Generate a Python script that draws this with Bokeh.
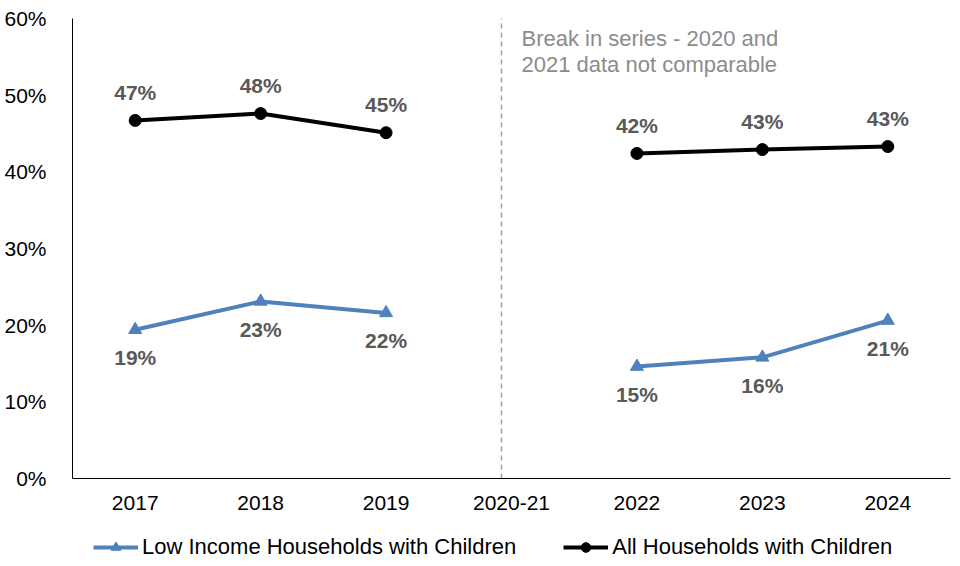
import math
from bokeh.plotting import figure
from bokeh.layouts import column
from bokeh.models import (FactorRange, Range1d, FixedTicker, NumeralTickFormatter,
                          Legend, LegendItem, ColumnDataSource)
from bokeh.core.properties import value
from bokeh.embed import file_html
from bokeh.resources import INLINE

nan = float("nan")
years = ["2017", "2018", "2019", "2020-21", "2022", "2023", "2024"]
low_income = [0.194, 0.231, 0.216, nan, 0.146, 0.158, 0.206]
all_households = [0.467, 0.476, 0.451, nan, 0.424, 0.429, 0.433]
low_labels = ["19%", "23%", "22%", "", "15%", "16%", "21%"]
all_labels = ["47%", "48%", "45%", "", "42%", "43%", "43%"]
y_ticks = [0, 0.1, 0.2, 0.3, 0.4, 0.5, 0.6]
series_names = ["Low Income Households with Children", "All Households with Children"]
break_year = "2020-21"
break_note = ["Break in series - 2020 and", "2021 data not comparable"]

FONT = "Liberation Sans"
BLUE = "#4F81BD"
FS = "21px"

chart = figure(width=960, height=530, output_backend="svg", toolbar_location=None,
               x_range=FactorRange(*years, range_padding=0), y_range=Range1d(0, 0.6),
               min_border_left=72, min_border_right=10, min_border_top=18, min_border_bottom=52)
chart.outline_line_color = None
chart.xgrid.grid_line_color = None
chart.ygrid.grid_line_color = None

for ax in (chart.xaxis[0], chart.yaxis[0]):
    ax.major_tick_line_color = None
    ax.minor_tick_line_color = None
    ax.axis_line_color = "black"
    ax.axis_line_width = 1
    ax.major_label_text_font = FONT
    ax.major_label_text_font_size = FS
    ax.major_label_text_color = "black"
chart.yaxis[0].ticker = FixedTicker(ticks=y_ticks)
chart.yaxis[0].formatter = NumeralTickFormatter(format="0%")
chart.yaxis[0].major_label_standoff = 20
chart.xaxis[0].major_label_standoff = 11

# break line (drawn slightly left of the category centre, as in the original)
chart.segment(x0=[(break_year, -0.08)], y0=[0], x1=[(break_year, -0.08)], y1=[0.6],
              line_color="#A0A0A0", line_width=1.5, line_dash="5 4")
chart.text(x=[(break_year, -0.08)] * 2, y=[0.6, 0.6], text=break_note,
           x_offset=20, y_offset=[20, 46], text_baseline="alphabetic", text_align="left",
           text_font=value(FONT), text_font_size="22px", text_color="#8C8C8C")

src_low = ColumnDataSource(dict(x=years, y=low_income))
src_all = ColumnDataSource(dict(x=years, y=all_households))

low_line = dict(line_color=BLUE, line_width=4)
low_mark = dict(marker="triangle", size=13, fill_color=BLUE, line_color=BLUE)
all_line = dict(line_color="black", line_width=4)
all_mark = dict(marker="circle", size=12, fill_color="black", line_color="black")

chart.line("x", "y", source=src_low, **low_line)
chart.scatter("x", "y", source=src_low, **low_mark)
chart.line("x", "y", source=src_all, **all_line)
chart.scatter("x", "y", source=src_all, **all_mark)

idx = [i for i, t in enumerate(low_labels) if t]
chart.text(x=[years[i] for i in idx], y=[low_income[i] for i in idx],
           text=[low_labels[i] for i in idx], y_offset=28, text_align="center",
           text_baseline="middle", text_font=value(FONT), text_font_size=FS,
           text_font_style="bold", text_color="#595959")
idx = [i for i, t in enumerate(all_labels) if t]
chart.text(x=[years[i] for i in idx], y=[all_households[i] for i in idx],
           text=[all_labels[i] for i in idx], y_offset=-28, text_align="center",
           text_baseline="middle", text_font=value(FONT), text_font_size=FS,
           text_font_style="bold", text_color="#595959")

# legend strip below the chart (its frame is aligned with the chart's frame)
leg = figure(width=960, height=36, output_backend="svg", toolbar_location=None,
             x_range=Range1d(0, 1), y_range=Range1d(0, 1),
             x_axis_location=None, y_axis_location=None, min_border=0)
leg.outline_line_color = None
leg.xgrid.grid_line_color = None
leg.ygrid.grid_line_color = None
r1 = leg.line(x=[nan], y=[nan], **low_line)
r2 = leg.scatter(x=[nan], y=[nan], **low_mark)
r3 = leg.line(x=[nan], y=[nan], **all_line)
r4 = leg.scatter(x=[nan], y=[nan], **all_mark)
legend = Legend(items=[LegendItem(label=series_names[0], renderers=[r1, r2]),
                       LegendItem(label=series_names[1], renderers=[r3, r4])],
                orientation="horizontal", location=(21, 6),
                glyph_width=45, glyph_height=24, label_height=24, spacing=47, padding=0, margin=0,
                label_text_font=FONT, label_text_font_size="22px", label_text_color="black",
                label_standoff=4, border_line_color=None, background_fill_alpha=0)
leg.add_layout(legend, "center")

p = column(chart, leg, spacing=0)
open("out.html", "w").write(file_html(p, INLINE))
